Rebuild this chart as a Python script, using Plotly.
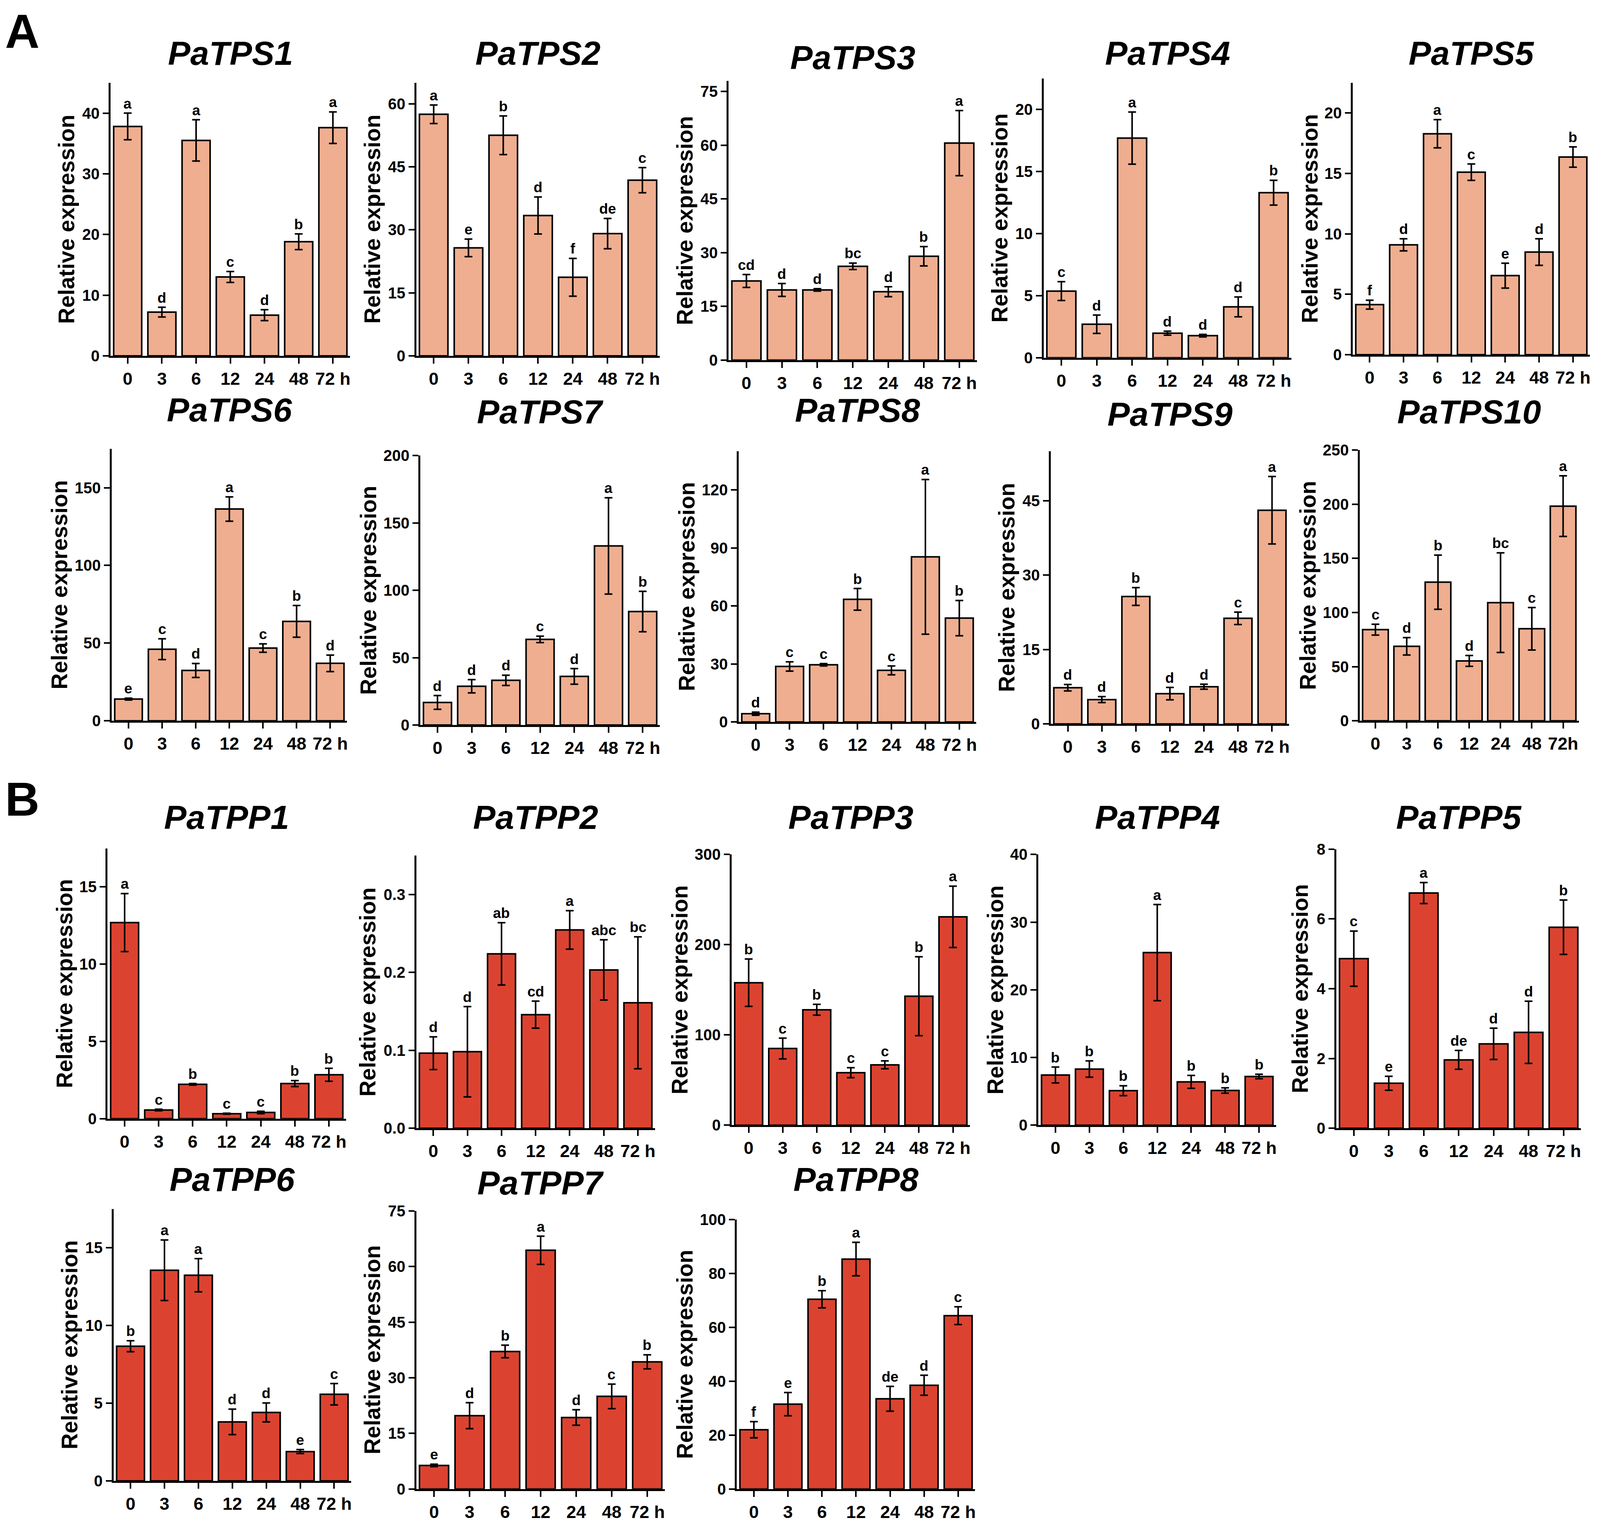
import plotly.graph_objects as go

# sampling times (h)
times = ["0", "3", "6", "12", "24", "48", "72 h"]
times_tps10 = ["0", "3", "6", "12", "24", "48", "72h"]

# A: PaTPS genes, mean / error / significance letters
pa_tps1 = [37.8, 7.2, 35.5, 13.0, 6.7, 18.8, 37.6]
pa_tps1_err = [2.2, 0.8, 3.4, 0.9, 0.9, 1.3, 2.6]
pa_tps1_sig = ["a", "d", "a", "c", "d", "b", "a"]

pa_tps2 = [57.5, 25.7, 52.5, 33.4, 18.7, 29.1, 41.8]
pa_tps2_err = [2.2, 2.1, 4.6, 4.4, 4.5, 3.6, 3.0]
pa_tps2_sig = ["a", "e", "b", "d", "f", "de", "c"]

pa_tps3 = [22.1, 19.6, 19.6, 26.2, 19.1, 29.0, 60.6]
pa_tps3_err = [1.8, 1.8, 0.35, 0.9, 1.4, 2.7, 9.1]
pa_tps3_sig = ["cd", "d", "d", "bc", "d", "b", "a"]

pa_tps4 = [5.37, 2.7, 17.7, 1.98, 1.78, 4.1, 13.3]
pa_tps4_err = [0.76, 0.74, 2.1, 0.16, 0.1, 0.8, 1.0]
pa_tps4_sig = ["c", "d", "a", "d", "d", "d", "b"]

pa_tps5 = [4.14, 9.09, 18.28, 15.1, 6.54, 8.49, 16.35]
pa_tps5_err = [0.37, 0.5, 1.17, 0.68, 1.03, 1.1, 0.84]
pa_tps5_sig = ["f", "d", "a", "c", "e", "d", "b"]

pa_tps6 = [14.0, 46.1, 32.4, 136.3, 46.8, 64.0, 37.0]
pa_tps6_err = [0.6, 6.7, 4.5, 7.8, 2.7, 10.2, 5.3]
pa_tps6_sig = ["e", "c", "d", "a", "c", "b", "d"]

pa_tps7 = [16.8, 28.8, 33.2, 63.6, 36.1, 132.9, 84.2]
pa_tps7_err = [5.1, 4.9, 3.8, 2.4, 5.8, 35.7, 15.0]
pa_tps7_sig = ["d", "d", "d", "c", "d", "a", "b"]

pa_tps8 = [4.3, 28.7, 29.6, 63.4, 26.7, 85.4, 53.7]
pa_tps8_err = [0.8, 2.4, 0.6, 5.6, 2.3, 40.0, 9.1]
pa_tps8_sig = ["d", "c", "c", "b", "c", "a", "b"]

pa_tps9 = [7.3, 4.9, 25.7, 6.1, 7.5, 21.3, 43.1]
pa_tps9_err = [0.65, 0.6, 1.8, 1.25, 0.5, 1.25, 6.8]
pa_tps9_sig = ["d", "d", "b", "d", "d", "c", "a"]

pa_tps10 = [84.2, 68.8, 128.0, 55.3, 109.1, 85.0, 198.2]
pa_tps10_err = [5.0, 8.0, 25.0, 5.0, 46.0, 19.6, 28.0]
pa_tps10_sig = ["c", "d", "b", "d", "bc", "c", "a"]

# B: PaTPP genes
pa_tpp1 = [12.69, 0.56, 2.22, 0.32, 0.40, 2.27, 2.84]
pa_tpp1_err = [1.88, 0.05, 0.05, 0.03, 0.08, 0.19, 0.42]
pa_tpp1_sig = ["a", "c", "b", "c", "c", "b", "b"]

pa_tpp2 = [0.0964, 0.0983, 0.2239, 0.1459, 0.2547, 0.2033, 0.1611]
pa_tpp2_err = [0.021, 0.058, 0.040, 0.0174, 0.0247, 0.0387, 0.0847]
pa_tpp2_sig = ["d", "d", "ab", "cd", "a", "abc", "bc"]

pa_tpp3 = [157.9, 85.0, 127.9, 58.2, 66.9, 142.9, 230.9]
pa_tpp3_err = [26.2, 11.5, 6.0, 5.5, 4.4, 43.7, 34.0]
pa_tpp3_sig = ["b", "c", "b", "c", "c", "b", "a"]

pa_tpp4 = [7.42, 8.3, 5.1, 25.5, 6.4, 5.13, 7.2]
pa_tpp4_err = [1.17, 1.2, 0.73, 7.1, 0.95, 0.4, 0.33]
pa_tpp4_sig = ["b", "b", "b", "a", "b", "b", "b"]

pa_tpp5 = [4.86, 1.29, 6.74, 1.96, 2.42, 2.75, 5.76]
pa_tpp5_err = [0.79, 0.2, 0.3, 0.27, 0.45, 0.89, 0.78]
pa_tpp5_sig = ["c", "e", "a", "de", "d", "d", "b"]

pa_tpp6 = [8.67, 13.56, 13.24, 3.8, 4.41, 1.89, 5.58]
pa_tpp6_err = [0.35, 1.95, 1.07, 0.82, 0.61, 0.13, 0.69]
pa_tpp6_sig = ["b", "a", "a", "d", "d", "e", "c"]

pa_tpp7 = [6.37, 19.8, 37.1, 64.4, 19.3, 25.0, 34.3]
pa_tpp7_err = [0.33, 3.5, 1.7, 3.8, 2.1, 3.3, 1.9]
pa_tpp7_sig = ["e", "d", "b", "a", "d", "c", "b"]

pa_tpp8 = [22.0, 31.5, 70.4, 85.3, 33.5, 38.5, 64.3]
pa_tpp8_err = [3.0, 4.3, 3.2, 6.2, 4.6, 3.7, 3.3]
pa_tpp8_sig = ["f", "e", "b", "a", "de", "d", "c"]

# reference canvas, used only to turn pixel boxes into paper fractions
W, H = 4295, 3909
TPS_COLOR = "#EFAE8F"
TPP_COLOR = "#DB4330"
FONT = "Liberation Sans, Arial, sans-serif"

# name, data, x labels, colour, box (x0, x1, ytop, ybottom in px), ymax, dtick,
# y-label offset, title y
panels = [
    ("PaTPS1", pa_tps1, pa_tps1_err, pa_tps1_sig, times, TPS_COLOR, (297, 940, 192, 899), 45, 10, 118, 115),
    ("PaTPS2", pa_tps2, pa_tps2_err, pa_tps2_sig, times, TPS_COLOR, (1118, 1772, 192, 899), 65, 15, 118, 115),
    ("PaTPS3", pa_tps3, pa_tps3_err, pa_tps3_sig, times, TPS_COLOR, (1957, 2624, 187, 910), 78, 15, 118, 126),
    ("PaTPS4", pa_tps4, pa_tps4_err, pa_tps4_sig, times, TPS_COLOR, (2803, 3468, 181, 904), 22.5, 5, 118, 115),
    ("PaTPS5", pa_tps5, pa_tps5_err, pa_tps5_sig, times, TPS_COLOR, (3633, 4270, 192, 896), 22.5, 5, 116, 115),
    ("PaTPS6", pa_tps6, pa_tps6_err, pa_tps6_sig, times, TPS_COLOR, (300, 932, 1140, 1844), 175, 50, 140, 1039),
    ("PaTPS7", pa_tps7, pa_tps7_err, pa_tps7_sig, times, TPS_COLOR, (1129, 1772, 1157, 1855), 200, 50, 140, 1044),
    ("PaTPS8", pa_tps8, pa_tps8_err, pa_tps8_sig, times, TPS_COLOR, (1984, 2622, 1146, 1847), 140, 30, 140, 1040),
    ("PaTPS9", pa_tps9, pa_tps9_err, pa_tps9_sig, times, TPS_COLOR, (2822, 3462, 1146, 1852), 55, 15, 118, 1050),
    ("PaTPS10", pa_tps10, pa_tps10_err, pa_tps10_sig, times_tps10, TPS_COLOR, (3652, 4240, 1143, 1844), 250, 50, 140, 1044),
    ("PaTPP1", pa_tpp1, pa_tpp1_err, pa_tpp1_sig, times, TPP_COLOR, (289, 929, 2174, 2874), 17.5, 5, 116, 2094),
    ("PaTPP2", pa_tpp2, pa_tpp2_err, pa_tpp2_sig, times, TPP_COLOR, (1118, 1759, 2193, 2899), 0.35, 0.1, 130, 2094),
    ("PaTPP3", pa_tpp3, pa_tpp3_err, pa_tpp3_sig, times, TPP_COLOR, (1965, 2605, 2190, 2891), 300, 100, 140, 2094),
    ("PaTPP4", pa_tpp4, pa_tpp4_err, pa_tpp4_sig, times, TPP_COLOR, (2789, 3427, 2190, 2891), 40, 10, 116, 2094),
    ("PaTPP5", pa_tpp5, pa_tpp5_err, pa_tpp5_sig, times, TPP_COLOR, (3589, 4246, 2176, 2899), 8, 2, 98, 2094),
    ("PaTPP6", pa_tpp6, pa_tpp6_err, pa_tpp6_sig, times, TPP_COLOR, (305, 943, 3108, 3812), 17.5, 5, 118, 3031),
    ("PaTPP7", pa_tpp7, pa_tpp7_err, pa_tpp7_sig, times, TPP_COLOR, (1118, 1786, 3113, 3833), 75, 15, 118, 3040),
    ("PaTPP8", pa_tpp8, pa_tpp8_err, pa_tpp8_sig, times, TPP_COLOR, (1979, 2619, 3135, 3833), 100, 20, 140, 3031),
]

fig = go.Figure()
annotations = []

for i, (name, mean, err, sig, labels, color, box, ymax, dtick, lab_off, title_y) in enumerate(panels, start=1):
    x0, x1, yt, yb = box
    xa = "x" if i == 1 else f"x{i}"
    ya = "y" if i == 1 else f"y{i}"
    pos = list(range(len(labels)))

    fig.add_trace(go.Bar(
        x=pos, y=mean,
        error_y=dict(type="data", array=err, visible=True, color="black", thickness=4, width=10),
        marker=dict(color=color, line=dict(color="black", width=4)),
        xaxis=xa, yaxis=ya, showlegend=False,
    ))

    axis_common = dict(showline=True, linecolor="black", linewidth=5, ticks="outside",
                       ticklen=15, tickwidth=4, tickcolor="black", showgrid=False, zeroline=False)
    fig.layout[("xaxis" if i == 1 else f"xaxis{i}")] = dict(
        domain=[x0 / W, x1 / W], anchor=ya, range=[-0.5, 6.5],
        tickmode="array", tickvals=pos, ticktext=labels, tickangle=0,
        tickfont=dict(family=FONT, size=45, color="black", weight="bold"),
        **axis_common)
    fig.layout[("yaxis" if i == 1 else f"yaxis{i}")] = dict(
        domain=[1 - yb / H, 1 - yt / H], anchor=xa, range=[0, ymax], tick0=0, dtick=dtick,
        tickformat=".1f" if ymax < 1 else None,
        tickfont=dict(family=FONT, size=40, color="black", weight="bold"),
        **axis_common)

    # significance letters
    for p, m, e, s in zip(pos, mean, err, sig):
        annotations.append(dict(
            x=p, y=m + e, xref=xa, yref=ya, text=f"<b>{s}</b>", showarrow=False,
            yanchor="bottom", yshift=2,
            font=dict(family=FONT, size=37, color="black")))

    # gene title
    annotations.append(dict(
        x=(x0 + x1) / 2 / W, y=1 - title_y / H, xref="paper", yref="paper",
        text=f"<b><i>{name}</i></b>", showarrow=False, xanchor="center", yanchor="middle",
        font=dict(family=FONT, size=86, color="black")))

    # y-axis label
    annotations.append(dict(
        x=(x0 - lab_off) / W, y=1 - (yt + yb) / 2 / H, xref="paper", yref="paper",
        text="<b>Relative expression</b>", showarrow=False, textangle=-90,
        xanchor="center", yanchor="middle",
        font=dict(family=FONT, size=57, color="black")))

# panel letters
for letter, ly in [("A", 60), ("B", 2047)]:
    annotations.append(dict(
        x=60 / W, y=1 - ly / H, xref="paper", yref="paper", text=f"<b>{letter}</b>",
        showarrow=False, xanchor="center", yanchor="middle",
        font=dict(family=FONT, size=122, color="black")))

fig.update_layout(
    autosize=True, margin=dict(l=0, r=0, t=0, b=0),
    paper_bgcolor="white", plot_bgcolor="white",
    bargap=0.18, annotations=annotations,
)

# fill the browser window exactly, whatever its real size
fit_js = ("document.body.style.margin='0';document.body.style.overflow='hidden';"
          "Plotly.Plots.resize(document.getElementById('{plot_id}'));")
fig.write_html("out.html", default_width="100vw", default_height="100vh",
               config={"responsive": True, "displayModeBar": False}, post_script=fit_js)
